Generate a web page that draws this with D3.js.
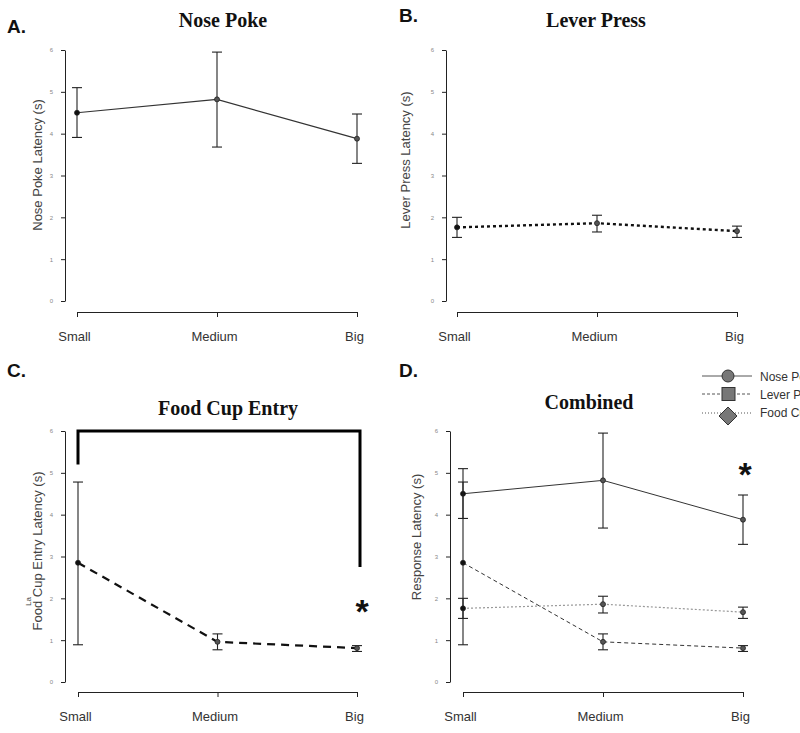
<!DOCTYPE html>
<html><head><meta charset="utf-8">
<script src="https://cdn.jsdelivr.net/npm/d3@7/dist/d3.min.js"></script>
<style>
html,body{margin:0;padding:0;background:#fff;overflow:hidden;}
svg{display:block;}
</style></head>
<body>
<svg id="chart" width="800" height="733"></svg>
<script>
const categories = ["Small", "Medium", "Big"];
const yTicks = [0, 1, 2, 3, 4, 5, 6];

const noseMean = [4.50, 4.82, 3.88];
const noseLow  = [3.91, 3.68, 3.29];
const noseHigh = [5.10, 5.95, 4.47];

const leverMean = [1.76, 1.86, 1.67];
const leverLow  = [1.52, 1.65, 1.52];
const leverHigh = [2.00, 2.05, 1.79];

const foodMean = [2.85, 0.96, 0.81];
const foodLow  = [0.89, 0.77, 0.73];
const foodHigh = [4.78, 1.15, 0.87];

const bracketLevels = [5.2, 6, 2.75]; // left end, top, right end
const legendLabels = ["Nose Poke", "Lever Press", "Food Cup Entry"];

const svg = d3.select("#chart");
const SANS = "'Liberation Sans', Arial, sans-serif";
const SERIF = "'Liberation Serif', 'Times New Roman', serif";

function makeSeries(mean, low, high) {
  return categories.map((c, i) => ({cat: c, v: mean[i], lo: low[i], hi: high[i]}));
}
const nose = makeSeries(noseMean, noseLow, noseHigh);
const lever = makeSeries(leverMean, leverLow, leverHigh);
const food = makeSeries(foodMean, foodLow, foodHigh);

const panels = [
  {letter: "A.", lx: 7, ly: 33, title: "Nose Poke", tx: 223, ty: 27, ylab: "Nose Poke Latency (s)", yx: 37, yy: 165,
   ax: 65, top: 50, bot: 301, xay: 312, x0: 77, x1: 357,
   series: [{d: nose, w: 1.2, dash: null, col: "#333"}]},
  {letter: "B.", lx: 399, ly: 22, title: "Lever Press", tx: 596, ty: 27, ylab: "Lever Press Latency (s)", yx: 405, yy: 160,
   ax: 446, top: 50, bot: 301, xay: 312, x0: 457, x1: 737,
   series: [{d: lever, w: 2.4, dash: "3,3", col: "#111"}]},
  {letter: "C.", lx: 7, ly: 377, title: "Food Cup Entry", tx: 228, ty: 415, ylab: "Food Cup Entry Latency (s)", yx: 37, yy: 551,
   ax: 65, top: 431, bot: 682, xay: 692, x0: 78, x1: 357,
   series: [{d: food, w: 2.2, dash: "8,6", col: "#111"}], bracket: true, star: {x: 362, y: 623}},
  {letter: "D.", lx: 399, ly: 377, title: "Combined", tx: 589, ty: 409, ylab: "Response Latency (s)", yx: 416, yy: 537,
   ax: 450, top: 431, bot: 682, xay: 692, x0: 463, x1: 743,
   series: [
     {d: nose, w: 1, dash: null, col: "#333"},
     {d: food, w: 1, dash: "4,3", col: "#333"},
     {d: lever, w: 1.2, dash: "2,2", col: "#999"}
   ], star: {x: 745, y: 486}, legend: true}
];

panels.forEach(p => {
  const g = svg.append("g");
  const x = d3.scalePoint().domain(categories).range([p.x0, p.x1]);
  const y = d3.scaleLinear().domain([0, 6]).range([p.bot, p.top]);

  g.append("text").attr("x", p.lx).attr("y", p.ly).text(p.letter)
    .attr("font-family", SANS).attr("font-weight", "bold").attr("font-size", 19).attr("fill", "#111");
  g.append("text").attr("x", p.tx).attr("y", p.ty).text(p.title).attr("text-anchor", "middle")
    .attr("font-family", SERIF).attr("font-weight", "bold").attr("font-size", 20).attr("fill", "#111");
  g.append("text").attr("transform", `translate(${p.yx},${p.yy}) rotate(-90)`).attr("dy", "0.35em")
    .attr("text-anchor", "middle").text(p.ylab)
    .attr("font-family", SANS).attr("font-size", 13).attr("fill", "#444");

  const ya = g.append("g").attr("transform", `translate(${p.ax},0)`)
    .call(d3.axisLeft(y).tickValues(yTicks).tickSize(4).tickSizeOuter(0).tickPadding(8).tickFormat(d3.format("d")));
  ya.select(".domain").attr("stroke", "#222");
  ya.selectAll(".tick line").attr("stroke", "#222");
  ya.selectAll(".tick text").attr("font-family", SANS).attr("font-size", 6).attr("fill", "#888");

  const xa = g.append("g").attr("transform", `translate(0,${p.xay})`)
    .call(d3.axisBottom(x).tickSize(5).tickSizeOuter(0).tickPadding(15));
  xa.select(".domain").attr("stroke", "#222");
  xa.selectAll(".tick line").attr("stroke", "#222");
  xa.selectAll(".tick text").attr("font-family", SANS).attr("font-size", 13).attr("fill", "#333").attr("dx", -3);

  p.series.forEach(s => {
    const line = d3.line().x(d => x(d.cat)).y(d => y(d.v));
    g.append("path").datum(s.d).attr("d", line).attr("fill", "none")
      .attr("stroke", s.col).attr("stroke-width", s.w).attr("stroke-dasharray", s.dash);
    const eb = g.append("g").attr("stroke", "#222").attr("stroke-width", 1.1);
    s.d.forEach(d => {
      const cx = x(d.cat);
      eb.append("line").attr("x1", cx).attr("x2", cx).attr("y1", y(d.lo)).attr("y2", y(d.hi));
      eb.append("line").attr("x1", cx - 5).attr("x2", cx + 5).attr("y1", y(d.lo)).attr("y2", y(d.lo));
      eb.append("line").attr("x1", cx - 5).attr("x2", cx + 5).attr("y1", y(d.hi)).attr("y2", y(d.hi));
    });
    g.selectAll(null).data(s.d).enter().append("circle")
      .attr("cx", d => x(d.cat)).attr("cy", d => y(d.v)).attr("r", 2.5)
      .attr("fill", (d, i) => i === 0 ? "#111" : "#555").attr("stroke", "#222").attr("stroke-width", 0.8);
  });

  if (p.bracket) {
    const xl = x(categories[0]), xr = x(categories[2]) + 3;
    g.append("path")
      .attr("d", `M${xl},${y(bracketLevels[0])}V${y(bracketLevels[1])}H${xr}V${y(bracketLevels[2])}`)
      .attr("fill", "none").attr("stroke", "#000").attr("stroke-width", 3);
    g.append("text").attr("transform", `translate(31,606) rotate(-90)`).text("La")
      .attr("font-family", SANS).attr("font-size", 8).attr("fill", "#444");
  }
  if (p.star) {
    g.append("text").attr("x", p.star.x).attr("y", p.star.y).attr("text-anchor", "middle").text("*")
      .attr("font-family", SANS).attr("font-weight", "bold").attr("font-size", 34).attr("fill", "#111");
  }
  if (p.legend) {
    const lg = svg.append("g");
    const ys = [376, 394, 413];
    const dashes = [null, "3,2", "1,2"];
    lg.selectAll("line").data(legendLabels).enter().append("line")
      .attr("x1", 702).attr("x2", 752).attr("y1", (d, i) => ys[i]).attr("y2", (d, i) => ys[i])
      .attr("stroke", "#555").attr("stroke-width", 1).attr("stroke-dasharray", (d, i) => dashes[i]);
    lg.append("circle").attr("cx", 728).attr("cy", ys[0]).attr("r", 6).attr("fill", "#777").attr("stroke", "#333");
    lg.append("rect").attr("x", 722).attr("y", ys[1] - 6.5).attr("width", 13).attr("height", 13).attr("fill", "#777").attr("stroke", "#333");
    lg.append("path").attr("d", `M728,${ys[2] - 6}l9,9l-9,9l-9,-9z`).attr("fill", "#777").attr("stroke", "#333");
    lg.selectAll("text").data(legendLabels).enter().append("text")
      .attr("x", 760).attr("y", (d, i) => [381, 399, 417][i]).text(d => d)
      .attr("font-family", SANS).attr("font-size", 12).attr("fill", "#333");
  }
});
</script>
</body></html>
